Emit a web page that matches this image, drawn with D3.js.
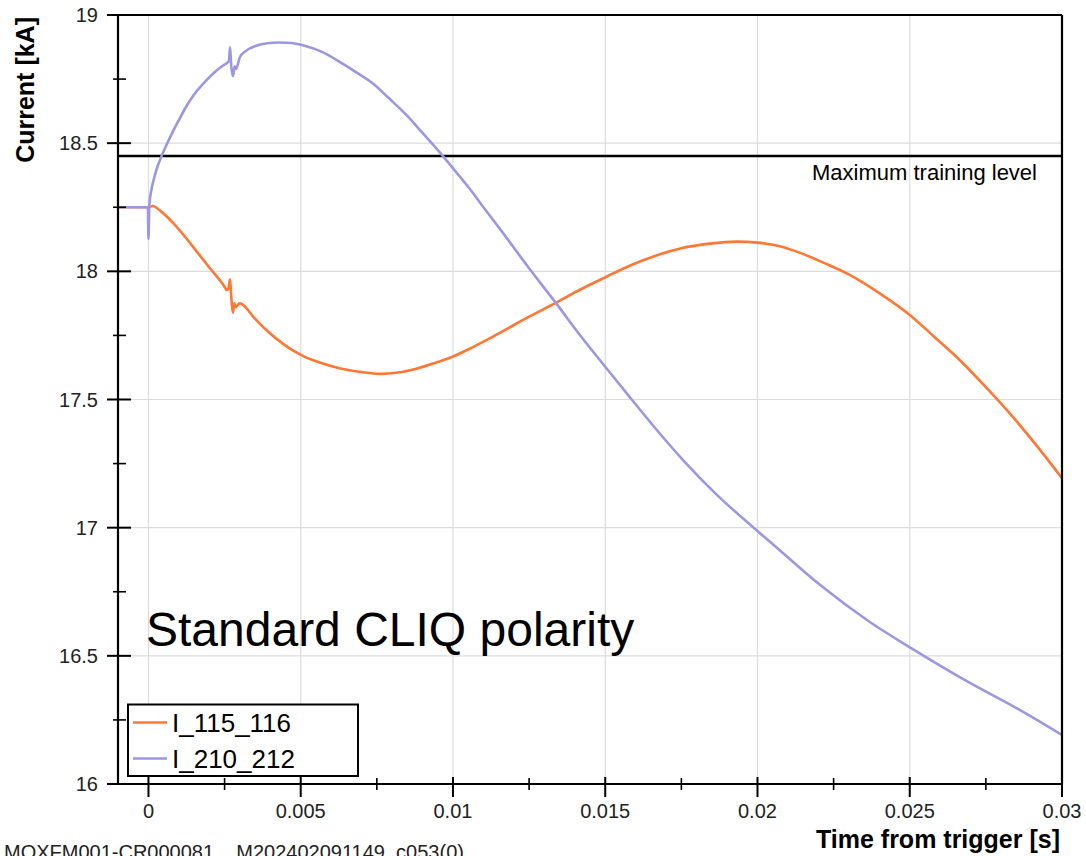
<!DOCTYPE html>
<html>
<head>
<meta charset="utf-8">
<script src="https://cdn.jsdelivr.net/npm/d3@7"></script>
<style>
  html, body { margin: 0; padding: 0; background: #fff; }
  svg { display: block; font-family: "Liberation Sans", Arial, sans-serif; }
</style>
</head>
<body>
<svg id="chart" width="1086" height="856"></svg>
<script>
// ---- data ----
const seriesNames = ["I_115_116", "I_210_212"];
const seriesColors = ["#ff7733", "#9b97e3"];

const timeA = [-0.001, -0.0005, 0, 0.00014, 0.0004, 0.0008, 0.0012, 0.0016, 0.002, 0.0025, 0.00257, 0.00262, 0.00268, 0.00272, 0.00277, 0.00282, 0.00286, 0.003, 0.0035, 0.00387, 0.0045, 0.00507, 0.0056, 0.00627, 0.007, 0.00759, 0.0082, 0.0088, 0.0094, 0.01, 0.01055, 0.0111, 0.01164, 0.0125, 0.01339, 0.0142, 0.01504, 0.0158, 0.01668, 0.0175, 0.01843, 0.01931, 0.02, 0.02073, 0.02136, 0.0222, 0.02303, 0.024, 0.025, 0.0258, 0.02664, 0.0275, 0.0284, 0.0292, 0.03];
const currentA = [18.25, 18.25, 18.25, 18.255, 18.235, 18.19, 18.135, 18.075, 18.015, 17.94, 17.927, 17.93, 17.969, 17.90, 17.839, 17.875, 17.86, 17.875, 17.815, 17.771, 17.71, 17.67, 17.645, 17.622, 17.607, 17.6, 17.605, 17.62, 17.642, 17.668, 17.698, 17.732, 17.767, 17.823, 17.878, 17.93, 17.979, 18.022, 18.062, 18.09, 18.108, 18.116, 18.112, 18.098, 18.074, 18.032, 17.986, 17.915, 17.83, 17.745, 17.654, 17.548, 17.43, 17.315, 17.193];

const timeB = [-0.001, -0.0005, -0.00002, 0, 0.00003, 0.0001, 0.0002, 0.0003, 0.00045, 0.0006, 0.0008, 0.001, 0.00124, 0.0015, 0.0019, 0.0022, 0.00244, 0.0026, 0.00264, 0.00268, 0.00272, 0.00278, 0.00283, 0.00288, 0.003, 0.0032, 0.00354, 0.0039, 0.0043, 0.0047, 0.00507, 0.0057, 0.00627, 0.0068, 0.00737, 0.0079, 0.00847, 0.009, 0.00956, 0.00989, 0.01055, 0.011, 0.01164, 0.0125, 0.01339, 0.0142, 0.01504, 0.0158, 0.01668, 0.0176, 0.01865, 0.01996, 0.02073, 0.02204, 0.02369, 0.02506, 0.02686, 0.02861, 0.03];
const currentB = [18.25, 18.25, 18.25, 18.126, 18.26, 18.32, 18.37, 18.41, 18.455, 18.495, 18.545, 18.59, 18.643, 18.69, 18.745, 18.78, 18.802, 18.815, 18.82, 18.874, 18.80, 18.762, 18.80, 18.79, 18.835, 18.86, 18.88, 18.89, 18.893, 18.891, 18.882, 18.856, 18.818, 18.778, 18.733, 18.675, 18.61, 18.54, 18.465, 18.418, 18.322, 18.25, 18.15, 18.012, 17.875, 17.747, 17.622, 17.51, 17.383, 17.258, 17.13, 16.991, 16.912, 16.778, 16.632, 16.529, 16.402, 16.289, 16.191];

const xDomain = [-0.001, 0.03];
const yDomain = [16, 19];
const xTicks = [0, 0.005, 0.01, 0.015, 0.02, 0.025, 0.03];
const xTickLabels = ["0", "0.005", "0.01", "0.015", "0.02", "0.025", "0.03"];
const xMinorTicks = [0.0025, 0.0075, 0.0125, 0.0175, 0.0225, 0.0275];
const yTicks = [16, 16.5, 17, 17.5, 18, 18.5, 19];
const yTickLabels = ["16", "16.5", "17", "17.5", "18", "18.5", "19"];
const yMinorTicks = [16.25, 16.75, 17.25, 17.75, 18.25, 18.75];
const trainingLevel = [18.45];
const trainingLabel = "Maximum training level";
const xTitle = "Time from trigger [s]";
const yTitle = "Current [kA]";
const annotation = "Standard CLIQ polarity";
const footer = "MQXFM001-CR000081__M202402091149_c053(0)";

// ---- layout ----
const W = 1086, H = 856;
const m = { left: 118, right: 24, top: 15, bottom: 72 };
const svg = d3.select("#chart");
const x = d3.scaleLinear().domain(xDomain).range([m.left, W - m.right]);
const y = d3.scaleLinear().domain(yDomain).range([H - m.bottom, m.top]);
const x0 = m.left, x1 = W - m.right, y0 = H - m.bottom, y1 = m.top;

// gridlines
const grid = svg.append("g").attr("stroke", "#dcdcdc").attr("stroke-width", 1.2);
xTicks.forEach(t => grid.append("line").attr("x1", x(t)).attr("x2", x(t)).attr("y1", y0).attr("y2", y1));
yTicks.forEach(v => grid.append("line").attr("y1", y(v)).attr("y2", y(v)).attr("x1", x0).attr("x2", x1));

svg.append("clipPath").attr("id", "clip").append("rect")
  .attr("x", x0).attr("y", y1).attr("width", x1 - x0).attr("height", y0 - y1);

// max training level
svg.append("line").attr("x1", x0).attr("x2", x1)
  .attr("y1", y(trainingLevel[0])).attr("y2", y(trainingLevel[0]))
  .attr("stroke", "#000").attr("stroke-width", 2.5);
svg.append("text").attr("x", 1037).attr("y", y(trainingLevel[0]) + 24)
  .attr("text-anchor", "end").attr("font-size", 22).attr("fill", "#000").text(trainingLabel);

// series
const line = d3.line().curve(d3.curveMonotoneX).x(d => x(d[0])).y(d => y(d[1]));
const seriesData = [d3.zip(timeA, currentA), d3.zip(timeB, currentB)];
const plot = svg.append("g").attr("clip-path", "url(#clip)");
seriesData.forEach((s, i) => {
  plot.append("path").datum(s).attr("d", line)
    .attr("fill", "none").attr("stroke", seriesColors[i]).attr("stroke-width", 2.6)
    .attr("stroke-linejoin", "round");
});

// axes
const axes = svg.append("g").attr("stroke", "#000");
axes.append("line").attr("x1", x0).attr("x2", x0).attr("y1", y1).attr("y2", y0).attr("stroke-width", 2.2);
axes.append("line").attr("x1", x0).attr("x2", x1).attr("y1", y0).attr("y2", y0).attr("stroke-width", 2.2);
axes.append("line").attr("x1", x0).attr("x2", x1).attr("y1", y1).attr("y2", y1).attr("stroke-width", 2.2);
axes.append("line").attr("x1", x1).attr("x2", x1).attr("y1", y1).attr("y2", y0).attr("stroke-width", 2.2);

yTicks.forEach(v => axes.append("line").attr("x1", x0 - 11).attr("x2", x0 + 13).attr("y1", y(v)).attr("y2", y(v)).attr("stroke-width", 2));
yMinorTicks.forEach(v => axes.append("line").attr("x1", x0 - 5).attr("x2", x0 + 8).attr("y1", y(v)).attr("y2", y(v)).attr("stroke-width", 1.6));
xTicks.forEach(t => axes.append("line").attr("x1", x(t)).attr("x2", x(t)).attr("y1", y0 - 7).attr("y2", y0 + 13).attr("stroke-width", 2));
xMinorTicks.forEach(t => axes.append("line").attr("x1", x(t)).attr("x2", x(t)).attr("y1", y0 - 6).attr("y2", y0 + 6).attr("stroke-width", 1.6));

yTicks.forEach((v, i) => svg.append("text").attr("x", 98).attr("y", y(v) + 7)
  .attr("text-anchor", "end").attr("font-size", 20).attr("fill", "#222").text(yTickLabels[i]));
xTicks.forEach((t, i) => svg.append("text").attr("x", x(t)).attr("y", 818)
  .attr("text-anchor", "middle").attr("font-size", 20).attr("fill", "#222").text(xTickLabels[i]));

// titles
svg.append("text").attr("transform", "translate(34,17) rotate(-90)")
  .attr("text-anchor", "end").attr("font-size", 25).attr("font-weight", "bold").attr("fill", "#000").text(yTitle);
svg.append("text").attr("x", 1060).attr("y", 848)
  .attr("text-anchor", "end").attr("font-size", 25).attr("font-weight", "bold").attr("fill", "#000").text(xTitle);

// annotation
svg.append("text").attr("x", 146).attr("y", 646).attr("font-size", 48).attr("fill", "#000").text(annotation);

// footer
svg.append("text").attr("x", 4).attr("y", 859).attr("font-size", 20).attr("fill", "#222").text(footer);

// legend
const lg = svg.append("g");
lg.append("rect").attr("x", 128).attr("y", 704.5).attr("width", 230).attr("height", 71.5)
  .attr("fill", "#fff").attr("stroke", "#000").attr("stroke-width", 2);
seriesNames.forEach((n, i) => {
  const ly = 722.5 + i * 36;
  lg.append("line").attr("x1", 133).attr("x2", 167).attr("y1", ly).attr("y2", ly)
    .attr("stroke", seriesColors[i]).attr("stroke-width", 2.6);
  lg.append("text").attr("x", 172).attr("y", ly + 9).attr("font-size", 26).attr("fill", "#000").text(n);
});
</script>
</body>
</html>
